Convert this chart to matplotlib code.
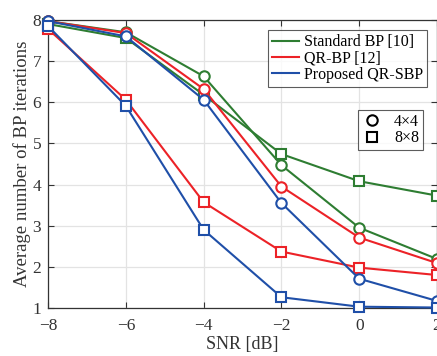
import matplotlib
matplotlib.use("Agg")
import matplotlib.pyplot as plt
from matplotlib.lines import Line2D

snr = [-8, -6, -4, -2, 0, 2]
std_4x4 = [7.97, 7.70, 6.63, 4.47, 2.95, 2.19]
std_8x8 = [7.90, 7.56, 6.18, 4.74, 4.08, 3.73]
qr_4x4 = [7.97, 7.68, 6.32, 3.95, 2.71, 2.09]
qr_8x8 = [7.78, 6.06, 3.57, 2.37, 1.98, 1.80]
prop_4x4 = [7.97, 7.60, 6.06, 3.55, 1.71, 1.17]
prop_8x8 = [7.85, 5.91, 2.90, 1.26, 1.03, 1.01]

series_labels = ["Standard BP [10]", "QR-BP [12]", "Proposed QR-SBP"]
size_labels = ["4\u00d74", "8\u00d78"]

green = "#2e7d32"
red = "#ec2227"
blue = "#1f4fa8"

plt.rcParams['font.family'] = ['Liberation Serif', 'DejaVu Serif']
plt.rcParams['mathtext.fontset'] = 'stix'

fig = plt.figure(figsize=(4.37, 3.56), dpi=100)
ax = fig.add_axes([0.110, 0.135, 0.890, 0.809])

lw = 1.5
ms = 7.5
for data, c, m in [(std_4x4, green, 'o'), (std_8x8, green, 's'),
                   (qr_4x4, red, 'o'), (qr_8x8, red, 's'),
                   (prop_4x4, blue, 'o'), (prop_8x8, blue, 's')]:
    ax.plot(snr, data, color=c, marker=m, lw=lw, ms=ms if m == 'o' else ms - 0.8,
            mfc='white', mew=1.5, clip_on=False, zorder=3)

ax.set_xlim(-8, 2)
ax.set_ylim(1, 8)
ax.set_xticks(snr)
ax.set_xticklabels(["\u22128", "\u22126", "\u22124", "\u22122", "0", "2"])
ax.set_yticks(range(1, 9))
ax.grid(True, color="#e3e3e3", lw=0.9)
ax.set_axisbelow(True)
ax.tick_params(direction='in', top=True, right=True, labelsize=12.5,
               colors="#333333", length=4)
ax.tick_params(axis='x', pad=7)
ax.tick_params(axis='y', pad=5)
for s in ax.spines.values():
    s.set_color("#333333")
    s.set_linewidth(0.9)
ax.set_xlabel("SNR [dB]", fontsize=13, color="#333333", labelpad=2)
ax.set_ylabel("Average number of BP iterations", fontsize=13.5, color="#333333", labelpad=1)

h1 = [Line2D([], [], color=c, lw=lw) for c in (green, red, blue)]
leg1 = ax.legend(h1, series_labels, loc='upper right', bbox_to_anchor=(0.983, 0.975),
                 fontsize=11.5, frameon=True, fancybox=False, edgecolor="#333333",
                 handlelength=1.7, handletextpad=0.3, borderpad=0.25, labelspacing=0.02,
                 borderaxespad=0.2)
leg1.get_frame().set_linewidth(0.8)
ax.add_artist(leg1)

h2 = [Line2D([], [], color='black', marker='o', ls='none', ms=ms, mfc='white', mew=1.5),
      Line2D([], [], color='black', marker='s', ls='none', ms=ms - 1, mfc='white', mew=1.5)]
leg2 = ax.legend(h2, size_labels, loc='upper right', bbox_to_anchor=(0.972, 0.70),
                 fontsize=11.5, frameon=True, fancybox=False, edgecolor="#333333",
                 handlelength=1.2, handletextpad=0.8, borderpad=0.25, labelspacing=0.05,
                 borderaxespad=0.2)
leg2.get_frame().set_linewidth(0.8)

fig.savefig("out.png", dpi=100)
